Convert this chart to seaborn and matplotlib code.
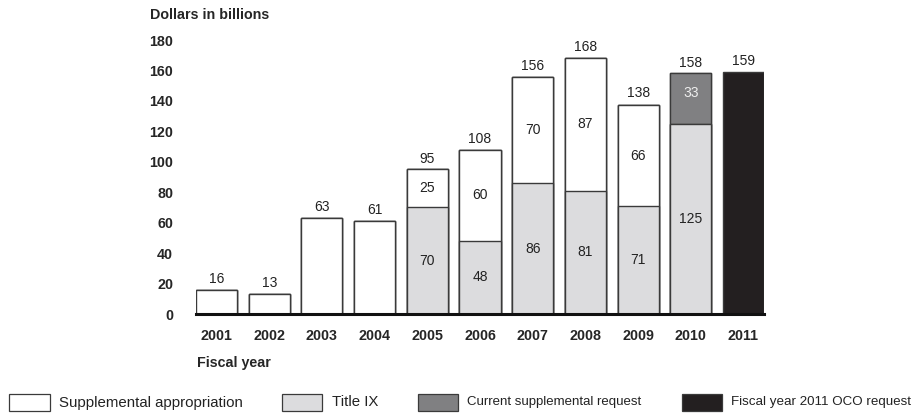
import matplotlib
matplotlib.use("Agg")
import matplotlib.pyplot as plt
import seaborn as sns
import numpy as np
from matplotlib.patches import Rectangle

years = ["2001", "2002", "2003", "2004", "2005", "2006", "2007", "2008", "2009", "2010", "2011"]
title_ix = [0, 0, 0, 0, 70, 48, 86, 81, 71, 125, 0]
supplemental = [16, 13, 63, 61, 25, 60, 70, 87, 66, 0, 0]
current_request = [0, 0, 0, 0, 0, 0, 0, 0, 0, 33, 0]
oco_request = [0, 0, 0, 0, 0, 0, 0, 0, 0, 0, 159]
totals = [16, 13, 63, 61, 95, 108, 156, 168, 138, 158, 159]
yticks = [0, 20, 40, 60, 80, 100, 120, 140, 160, 180]
legend_labels = ["Supplemental appropriation", "Title IX", "Current supplemental request", "Fiscal year 2011 OCO request"]

sns.set_theme(style="white")
plt.rcParams['font.family'] = ['Liberation Sans', 'DejaVu Sans']

C_WHITE = "#ffffff"
C_LIGHT = "#dcdcde"
C_MID = "#808082"
C_DARK = "#231f20"
EDGE = "#3a3a3a"
BOLD_FS = 10.3

fig = plt.figure(figsize=(9.16, 4.13), dpi=100)
ax = fig.add_axes([196/916, 1-314/413, (764-196)/916, (314-40)/413])

t = np.array(title_ix); s = np.array(supplemental); c = np.array(current_request); o = np.array(oco_request)
layers = [
    (t + s + c + o, C_DARK),
    (t + s + c, C_MID),
    (t + s, C_WHITE),
    (t, C_LIGHT),
]
for h, col in layers:
    sns.barplot(x=years, y=h, color=col, edgecolor=EDGE, linewidth=1.0,
                width=0.78, saturation=1, ax=ax, order=years)

ax.set_xlim(-0.39, 10.39)
ax.set_ylim(0, 180)
ax.set_yticks(yticks)
ax.set_yticklabels([str(v) for v in yticks], fontweight="bold", fontsize=BOLD_FS)
ax.tick_params(axis="y", length=0, pad=16.5)
ax.tick_params(axis="x", length=0, pad=11)
for lbl in ax.get_xticklabels():
    lbl.set_fontweight("bold"); lbl.set_fontsize(BOLD_FS)
ax.set_xlabel(""); ax.set_ylabel("")
for sp in ["left", "right", "top"]:
    ax.spines[sp].set_visible(False)
ax.spines["bottom"].set_color("#111111")
ax.spines["bottom"].set_linewidth(2.2)
ax.spines["bottom"].set_zorder(5)

# segment labels
for i in range(len(years)):
    if t[i] > 0:
        ax.text(i, t[i]/2, str(t[i]), ha="center", va="center", fontsize=10, color="#222222")
    if t[i] > 0 and s[i] > 0:
        ax.text(i, t[i] + s[i]/2, str(s[i]), ha="center", va="center", fontsize=10, color="#222222")
    if c[i] > 0:
        ax.text(i, t[i] + s[i] + c[i]/2 + 4, str(c[i]), ha="center", va="center", fontsize=10, color="#eeeeee")
    ax.text(i, totals[i] + 2.5, str(totals[i]), ha="center", va="bottom", fontsize=10, color="#222222")

fig.text(150/916, 1-15/413, "Dollars in billions", fontsize=BOLD_FS, fontweight="bold", ha="left", va="center")
fig.text(197/916, 1-363/413, "Fiscal year", fontsize=BOLD_FS, fontweight="bold", ha="left", va="center")

# legend
leg_items = [
    (9, 50, 59, C_WHITE, 10.8),
    (282, 322, 332, C_LIGHT, 10.8),
    (418, 458, 467, C_MID, 9.5),
    (682, 722, 731, C_DARK, 9.6),
]
ly0, ly1 = 394, 411
for (x0, x1, tx, col, fs), lab in zip(leg_items, legend_labels):
    fig.add_artist(Rectangle((x0/916, 1-ly1/413), (x1-x0)/916, (ly1-ly0)/413,
                             transform=fig.transFigure, facecolor=col, edgecolor=EDGE, linewidth=0.9))
    fig.text(tx/916, 1-(ly0+ly1)/2/413, lab, fontsize=fs, ha="left", va="center", color="#222222")

fig.savefig("out.png", dpi=100)
